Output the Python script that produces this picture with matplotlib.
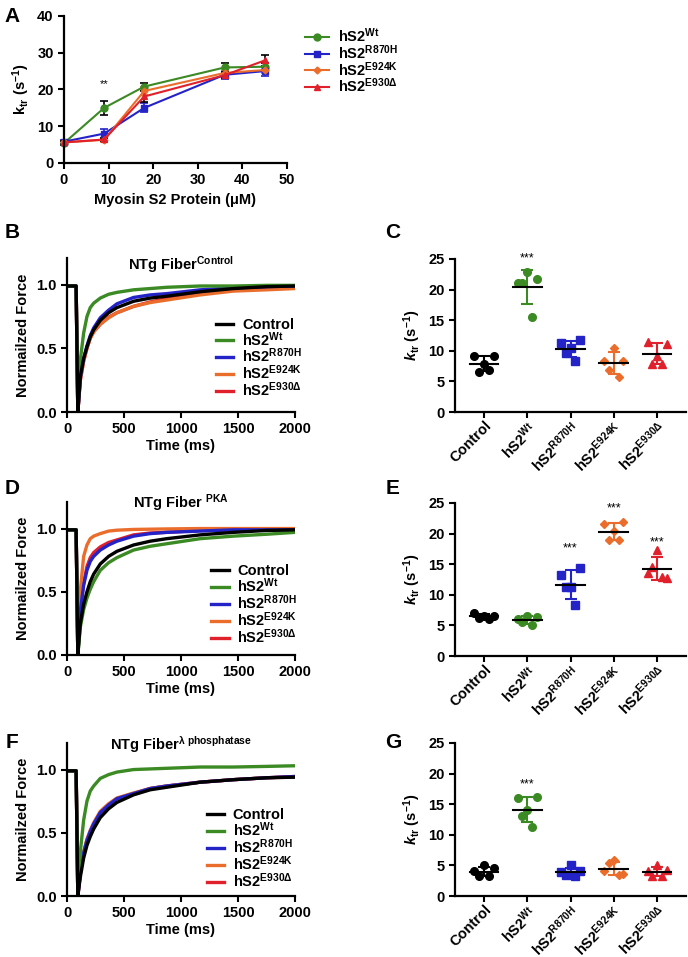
import numpy as np
import matplotlib
matplotlib.use("Agg")
import matplotlib.pyplot as plt
from matplotlib.lines import Line2D

plt.rcParams.update({
    "font.family": ["Liberation Sans", "DejaVu Sans"],
    "font.weight": "bold",
    "font.size": 10.5,
    "axes.labelweight": "bold",
    "axes.linewidth": 1.6,
    "xtick.major.width": 1.5,
    "ytick.major.width": 1.5,
    "xtick.major.size": 4,
    "ytick.major.size": 4,
    "mathtext.fontset": "custom",
    "mathtext.rm": "Liberation Sans:bold",
    "mathtext.bf": "Liberation Sans:bold",
    "mathtext.it": "Liberation Sans:italic:bold",
    "mathtext.default": "bf",
})

# ---- colours ----------------------------------------------------------
C_BLACK, C_GREEN, C_BLUE, C_ORANGE, C_RED = "black", "#3b8a23", "#2323c8", "#ea6d2c", "#e0202a"

# ---- panel A: ktr vs myosin S2 concentration --------------------------
conc_um = [0, 9, 18, 36, 45]
a_wt = [5.4, 15.0, 20.8, 26.0, 26.2]
a_wt_err = [0.6, 2.0, 1.1, 1.3, 1.0]
a_r870h = [5.8, 8.0, 15.0, 24.0, 25.0]
a_r870h_err = [0.5, 1.3, 1.2, 1.1, 1.2]
a_e924k = [5.6, 6.3, 19.6, 24.5, 25.3]
a_e924k_err = [0.4, 0.5, 1.0, 0.8, 0.8]
a_e930d = [5.6, 6.4, 18.1, 23.9, 27.9]
a_e930d_err = [0.4, 0.5, 1.6, 0.8, 1.4]

# ---- panels B/D/F: normalised force traces ----
t_ms = [0, 80, 95, 117, 146, 175, 204, 234, 292, 365, 438, 584, 730, 876,
        1168, 1460, 1750, 2000]
b_control = [0.99, 0.99, 0, 0.28, 0.42, 0.51, 0.59, 0.645, 0.72, 0.78, 0.82, 0.87, 0.895, 0.91, 0.945, 0.97, 0.985, 0.99]
b_wt = [0.99, 0.99, 0, 0.41, 0.62, 0.75, 0.82, 0.855, 0.895, 0.925, 0.94, 0.96, 0.97, 0.98, 0.99, 0.99, 0.995, 0.995]
b_r870h = [0.99, 0.99, 0, 0.27, 0.42, 0.52, 0.60, 0.66, 0.74, 0.80, 0.85, 0.90, 0.92, 0.93, 0.96, 0.975, 0.985, 0.99]
b_e924k = [0.99, 0.99, 0, 0.25, 0.40, 0.50, 0.58, 0.63, 0.69, 0.74, 0.78, 0.83, 0.86, 0.88, 0.92, 0.95, 0.96, 0.97]
b_e930d = [0.99, 0.99, 0, 0.25, 0.40, 0.50, 0.58, 0.63, 0.69, 0.745, 0.78, 0.83, 0.865, 0.89, 0.93, 0.96, 0.975, 0.98]

d_control = [0.99, 0.99, 0, 0.25, 0.40, 0.50, 0.58, 0.64, 0.72, 0.78, 0.82, 0.87, 0.90, 0.92, 0.95, 0.97, 0.985, 0.99]
d_wt = [0.99, 0.99, 0, 0.22, 0.36, 0.45, 0.52, 0.58, 0.67, 0.73, 0.77, 0.83, 0.86, 0.88, 0.92, 0.94, 0.955, 0.97]
d_r870h = [0.99, 0.99, 0, 0.35, 0.55, 0.67, 0.74, 0.78, 0.83, 0.87, 0.90, 0.94, 0.96, 0.97, 0.98, 0.99, 0.99, 0.99]
d_e924k = [0.99, 0.99, 0, 0.51, 0.78, 0.87, 0.92, 0.94, 0.96, 0.98, 0.987, 0.993, 0.995, 0.997, 1.0, 1.0, 1.0, 1.0]
d_e930d = [0.99, 0.99, 0, 0.36, 0.57, 0.70, 0.77, 0.81, 0.855, 0.89, 0.91, 0.95, 0.965, 0.97, 0.985, 0.99, 0.99, 0.99]

f_control = [0.99, 0.99, 0, 0.15, 0.30, 0.40, 0.47, 0.53, 0.62, 0.69, 0.74, 0.80, 0.84, 0.86, 0.90, 0.92, 0.935, 0.94]
f_wt = [0.99, 0.99, 0, 0.35, 0.60, 0.75, 0.83, 0.87, 0.93, 0.96, 0.98, 1.0, 1.005, 1.01, 1.02, 1.02, 1.025, 1.03]
f_r870h = [0.99, 0.99, 0, 0.18, 0.34, 0.44, 0.51, 0.57, 0.66, 0.72, 0.77, 0.81, 0.85, 0.87, 0.90, 0.92, 0.935, 0.945]
f_e924k = [0.99, 0.99, 0, 0.19, 0.35, 0.45, 0.52, 0.58, 0.67, 0.73, 0.775, 0.815, 0.85, 0.87, 0.90, 0.92, 0.935, 0.94]
f_e930d = [0.99, 0.99, 0, 0.18, 0.34, 0.44, 0.51, 0.57, 0.66, 0.72, 0.77, 0.81, 0.85, 0.87, 0.90, 0.92, 0.935, 0.945]

# ---- panels C/E/G: individual ktr values (s^-1) -----------------------
c_ktr = [[9.1, 9.1, 7.8, 6.5, 6.9],
         [21.0, 21.7, 22.8, 21.0, 15.6],
         [11.3, 11.7, 10.5, 9.7, 8.3],
         [8.3, 8.4, 10.5, 6.9, 5.7],
         [11.5, 11.1, 9.2, 7.9, 7.9]]
e_ktr = [[7.0, 6.6, 6.5, 6.2, 6.0],
         [6.1, 6.3, 6.6, 5.6, 5.0],
         [13.2, 14.4, 11.2, 11.3, 8.3],
         [21.6, 21.9, 20.4, 18.9, 18.9],
         [13.6, 12.8, 17.3, 14.6, 12.9]]
g_ktr = [[4.1, 4.5, 5.0, 3.2, 3.2],
         [16.0, 16.2, 14.1, 13.1, 11.2],
         [3.9, 4.1, 5.0, 3.4, 3.3],
         [4.1, 3.6, 5.9, 5.4, 3.4],
         [4.1, 4.3, 5.0, 3.2, 3.2]]

labels = ["Control", "hS2$^{Wt}$", "hS2$^{R870H}$", "hS2$^{E924K}$", "hS2$^{E930Δ}$"]
colors = [C_BLACK, C_GREEN, C_BLUE, C_ORANGE, C_RED]
markers = ["o", "o", "s", "D", "^"]
JITTER = [-0.22, 0.22, 0.0, -0.11, 0.11]
LEG_SPACING = -0.12


def style(ax):
    for s in ("top", "right"):
        ax.spines[s].set_visible(False)
    ax.tick_params(direction="out")


def trace_panel(ax, traces, title, title_y, leg_anchor):
    style(ax)
    for i in [4, 3, 2, 1, 0]:
        ax.plot(t_ms, traces[i], color=colors[i], lw=2.4,
                zorder=3 if i == 0 else 2)
    ax.set_xlim(0, 2000)
    ax.set_ylim(0, 1.21)
    ax.set_xticks([0, 500, 1000, 1500, 2000])
    ax.set_yticks([0, 0.5, 1.0])
    ax.set_yticklabels(["0.0", "0.5", "1.0"])
    ax.set_xlabel("Time (ms)", labelpad=2)
    ax.set_ylabel("Normailzed Force")
    ax.text(0.5, title_y, title, transform=ax.transAxes, ha="center",
            va="center", fontsize=10.5, fontweight="bold")
    handles = [Line2D([], [], color=c, lw=2.4) for c in colors]
    ax.legend(handles, labels, loc="upper left", bbox_to_anchor=leg_anchor,
              frameon=False, handlelength=1.2, handletextpad=0.6,
              labelspacing=LEG_SPACING, borderpad=0,
              prop={"weight": "bold", "size": 10.5})


def scatter_panel(ax, values, stars):
    style(ax)
    for i, vals in enumerate(values):
        xs = [i + j for j in JITTER]
        ax.plot(xs, vals, ls="none", marker=markers[i], color=colors[i],
                ms=5.5 if markers[i] != "D" else 4.5, zorder=3)
        m, sd = np.mean(vals), np.std(vals, ddof=1)
        ax.errorbar(i, m, yerr=sd, color=colors[i], capsize=4, lw=1.5,
                    capthick=1.5, zorder=2)
        ax.plot([i - 0.33, i + 0.33], [m, m], color="black", lw=1.5, zorder=4)
        if i in stars:
            ax.text(i, stars[i], "***", ha="center", va="center",
                    fontsize=9, fontweight="normal")
    ax.set_xlim(-0.67, 4.67)
    ax.set_ylim(0, 25)
    ax.set_yticks([0, 5, 10, 15, 20, 25])
    ax.set_xticks(range(5))
    ax.set_xticklabels(labels, rotation=45, ha="right", rotation_mode="anchor")
    ax.tick_params(axis="x", pad=1)
    ax.set_ylabel(r"$\mathit{k}_{tr}$ (s$^{-1}$)")


fig = plt.figure(figsize=(6.88, 9.57), dpi=100)
W, H = 688, 957


def add_axes(x0, x1, ytop, ybot):
    return fig.add_axes([x0 / W, 1 - ybot / H, (x1 - x0) / W, (ybot - ytop) / H])


# A
axA = add_axes(64, 287, 16, 163)
style(axA)
series = [(a_wt, a_wt_err, C_GREEN, "o", "black"),
          (a_r870h, a_r870h_err, C_BLUE, "s", C_BLUE),
          (a_e924k, a_e924k_err, C_ORANGE, "D", C_ORANGE),
          (a_e930d, a_e930d_err, C_RED, "^", "black")]
handlesA = []
for vals, err, col, mk, ecol in series:
    msz = 5 if mk != "D" else 3.5
    axA.errorbar(conc_um, vals, yerr=err, color=col, marker=mk, ms=msz,
                 lw=1.5, ecolor=ecol, elinewidth=1.2, capsize=3,
                 capthick=1.2, clip_on=False)
    handlesA.append(Line2D([], [], color=col, marker=mk, ms=msz, lw=1.5))
axA.text(9, 21.5, "**", ha="center", va="center", fontsize=8,
         fontweight="normal")
axA.set_xlim(0, 50)
axA.set_ylim(0, 40)
axA.set_xticks([0, 10, 20, 30, 40, 50])
axA.set_yticks([0, 10, 20, 30, 40])
axA.set_xlabel("Myosin S2 Protein (μM)")
axA.set_ylabel(r"k$_{tr}$ (s$^{-1}$)")
axA.legend(handlesA, labels[1:], loc="upper left", bbox_to_anchor=(1.05, 0.98),
           frameon=False, handlelength=1.6, handletextpad=0.6,
           labelspacing=LEG_SPACING, borderpad=0,
           prop={"weight": "bold", "size": 10.5})

# B / C
axB = add_axes(67, 295, 258, 412)
trace_panel(axB, [b_control, b_wt, b_r870h, b_e924k, b_e930d],
            "NTg Fiber$^{Control}$", 0.96, (0.62, 0.66))
axC = add_axes(455, 686, 259, 412)
scatter_panel(axC, c_ktr, {1: 25.1})

# D / E
axD = add_axes(67, 295, 502, 655)
trace_panel(axD, [d_control, d_wt, d_r870h, d_e924k, d_e930d],
            "NTg Fiber $^{PKA}$", 0.99, (0.6, 0.64))
axE = add_axes(455, 686, 503, 656)
scatter_panel(axE, e_ktr, {2: 17.6, 3: 24.1, 4: 18.6})

# F / G
axF = add_axes(67, 295, 743, 896)
trace_panel(axF, [f_control, f_wt, f_r870h, f_e924k, f_e930d],
            r"NTg Fiber$^{λ\ phosphatase}$", 0.99, (0.58, 0.62))
axG = add_axes(455, 686, 743, 896)
scatter_panel(axG, g_ktr, {1: 18.3})

for letter, x, y in [("A", 12, 16), ("B", 12, 233), ("C", 393, 233),
                     ("D", 12, 489), ("E", 393, 489), ("F", 12, 742),
                     ("G", 393, 742)]:
    fig.text(x / W, 1 - y / H, letter, fontsize=15, fontweight="bold",
             ha="center", va="center")

fig.savefig("out.png", dpi=100)
